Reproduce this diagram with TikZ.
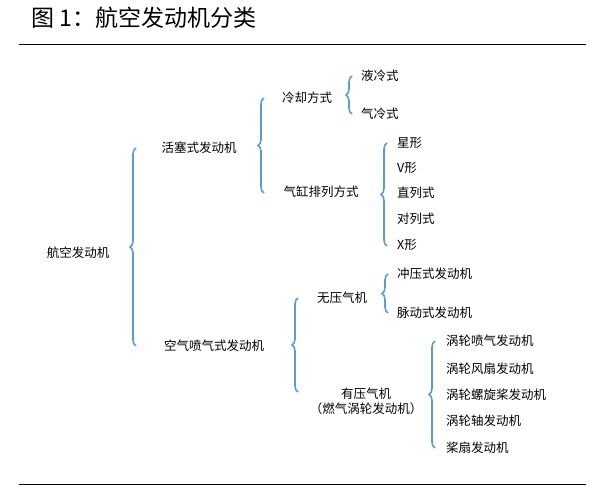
\documentclass[tikz,border=0pt]{standalone}
\usepackage{fontspec}
\setmainfont{Noto Sans CJK SC}
\newfontfamily\cjk{Noto Sans CJK SC}
\usetikzlibrary{decorations.pathreplacing}
\definecolor{br}{HTML}{5B9BD5}
\tikzset{
 lbl/.style={font=\fontsize{12.5pt}{15pt}\selectfont, inner sep=0pt},
 lw/.style={lbl, anchor=west},
 brc/.style={draw=br, line width=1.6pt, decorate, decoration={brace, amplitude=6pt}}
}
\begin{document}
\begin{tikzpicture}[x=1pt,y=-1pt]
\useasboundingbox (0,0) rectangle (606,492);
\node[anchor=west, font=\fontsize{23pt}{26pt}\selectfont, inner sep=0pt] (t) at (31,18) {图 1：航空发动机分类};
\draw[line width=0.8pt] (19,44) -- (586,44);
\draw[line width=0.8pt] (19,484) -- (586,484);
\node[lbl] (a) at (78,253) {航空发动机};
\node[lbl] (b1) at (199,148) {活塞式发动机};
\node[lbl] (b2) at (214,346) {空气喷气式发动机};
\node[lbl] (c1) at (307,98) {冷却方式};
\node[lbl] (c2) at (321,192) {气缸排列方式};
\node[lbl] (c3) at (342,298) {无压气机};
\node[lbl, align=center] (c4) at (366,401) {有压气机\\（燃气涡轮发动机）};
\node[lw] (d1) at (361,76) {液冷式};
\node[lw] (d2) at (361,114) {气冷式};
\node[lw] (e1) at (397,143) {星形};
\node[lw] (e2) at (397,168) {V形};
\node[lw] (e3) at (397,193) {直列式};
\node[lw] (e4) at (397,219) {对列式};
\node[lw] (e5) at (397,245) {X形};
\node[lw] (f1) at (397,274) {冲压式发动机};
\node[lw] (f2) at (397,313) {脉动式发动机};
\node[lw] (g1) at (446,341) {涡轮喷气发动机};
\node[lw] (g2) at (446,369) {涡轮风扇发动机};
\node[lw] (g3) at (446,395) {涡轮螺旋桨发动机};
\node[lw] (g4) at (446,421) {涡轮轴发动机};
\node[lw] (g5) at (446,448) {桨扇发动机};
\draw[brc] (136,346) -- (136,148);
\draw[brc] (264,193) -- (264,98);
\draw[brc] (352,114) -- (352,76);
\draw[brc] (387,246) -- (387,143);
\draw[brc] (298,392) -- (298,298);
\draw[brc] (388,313) -- (388,274);
\draw[brc] (435,448) -- (435,341);
\end{tikzpicture}
\end{document}
